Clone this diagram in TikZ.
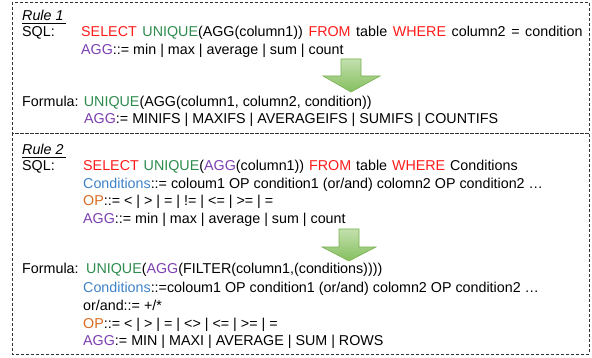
\documentclass[tikz,border=0pt]{standalone}
\usepackage{fontspec}
\setmainfont{Liberation Sans}
\definecolor{cred}{HTML}{FF1A1A}
\definecolor{cgreen}{HTML}{2E8B4E}
\definecolor{cpurple}{HTML}{7B3FB0}
\definecolor{cblue}{HTML}{3E82C8}
\definecolor{corange}{HTML}{D86A20}
\definecolor{arrtop}{HTML}{C3E0AE}
\definecolor{arrbot}{HTML}{85BF5E}
\definecolor{arredge}{HTML}{79B152}
\begin{document}
\begin{tikzpicture}[x=1pt,y=-1pt,
  txt/.style={anchor=base west,inner sep=0pt,font=\fontsize{14.3}{17}\selectfont},
  rulebox/.style={draw=black!80,line width=0.8pt,dash pattern=on 3pt off 2pt},
  bigarrow/.style={draw=arredge,line width=0.6pt,top color=arrtop,bottom color=arrbot}]
\useasboundingbox (0,0) rectangle (592,358);
\draw[rulebox] (12,2) rectangle (589,133);
\draw[rulebox] (12,133) rectangle (589,354);
% Rule 1
\node[txt] (r1) at (22,21) {\textit{Rule 1}};
\draw[line width=1.3pt] ([yshift=-2.4pt]r1.base west) -- ([yshift=-2.4pt,xshift=2pt]r1.base east);
\node[txt] (s1) at (22,37) {SQL:};
\node[txt] (s1a) at (81,37) {\spaceskip=5.6pt\textcolor{cred}{SELECT} \textcolor{cgreen}{UNIQUE}(AGG(column1)) \textcolor{cred}{FROM} table \textcolor{cred}{WHERE} column2 = condition};
\node[txt] (s1b) at (81,55) {\textcolor{cpurple}{AGG}::= min | max | average | sum | count};
\node[txt] (f1) at (22,107) {Formula: \textcolor{cgreen}{UNIQUE}(AGG(column1, column2, condition))};
\node[txt] (f1b) at (84,124) {\textcolor{cpurple}{AGG}:= MINIFS | MAXIFS | AVERAGEIFS | SUMIFS | COUNTIFS};
\draw[bigarrow] (341,59) -- (361,59) -- (361,76) -- (380,76) -- (351,92) -- (323,76) -- (341,76) -- cycle;
% Rule 2
\node[txt] (r2) at (22,155) {\textit{Rule 2}};
\draw[line width=1.3pt] ([yshift=-2.4pt]r2.base west) -- ([yshift=-2.4pt,xshift=2pt]r2.base east);
\node[txt] (s2) at (22,171) {SQL:};
\node[txt] (s2a) at (83,171) {\spaceskip=4.9pt\textcolor{cred}{SELECT} \textcolor{cgreen}{UNIQUE}(\textcolor{cpurple}{AGG}(column1)) \textcolor{cred}{FROM} table \textcolor{cred}{WHERE} Conditions};
\node[txt] (s2b) at (83,188.5) {\textcolor{cblue}{Conditions}::= coloum1 OP condition1 (or/and) colomn2 OP condition2 …};
\node[txt] (s2c) at (83,206) {\textcolor{corange}{OP}::= < | > | = | != | <= | >= | =};
\node[txt] (s2d) at (83,223.5) {\textcolor{cpurple}{AGG}::= min | max | average | sum | count};
\draw[bigarrow] (339,229) -- (359,229) -- (359,247) -- (376,247) -- (349,261) -- (322,247) -- (339,247) -- cycle;
\node[txt] (f2) at (22,274) {Formula:};
\node[txt] (f2a) at (86,274) {\textcolor{cgreen}{UNIQUE}(\textcolor{cpurple}{AGG}(FILTER(column1,(conditions))))};
\node[txt] (f2b) at (83,292) {\textcolor{cblue}{Conditions}::=coloum1 OP condition1 (or/and) colomn2 OP condition2 …};
\node[txt] (f2c) at (83,310) {or/and::= +/*};
\node[txt] (f2d) at (83,328) {\textcolor{corange}{OP}::= < | > | = | <> | <= | >= | =};
\node[txt] (f2e) at (83,345) {\textcolor{cpurple}{AGG}:= MIN | MAXI | AVERAGE | SUM | ROWS};
\end{tikzpicture}
\end{document}
